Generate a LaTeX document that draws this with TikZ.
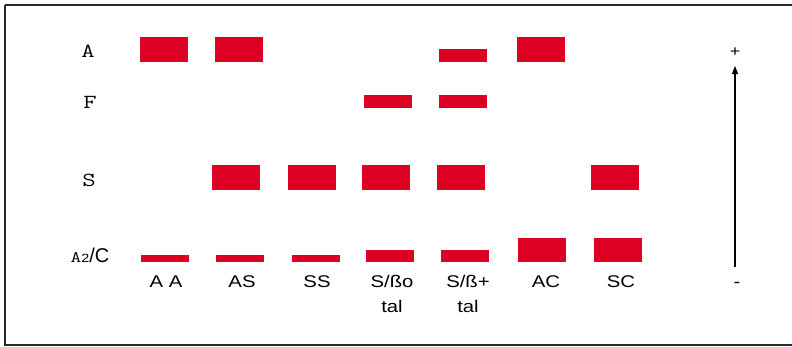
\documentclass[tikz,border=0pt]{standalone}
\usepackage{fontspec}
\usepackage{graphicx}
\setmainfont{Liberation Sans}
\newfontfamily\labsans[FakeStretch=1.2]{Liberation Sans}
\usetikzlibrary{arrows.meta}
\definecolor{barred}{RGB}{221,0,36}
\definecolor{framegray}{RGB}{40,40,40}
\newcommand{\widemono}[1]{\scalebox{1.3}[1]{#1}}
\tikzset{
  bar/.style={fill=barred},
  rowlab/.style={anchor=base, inner sep=0pt, font=\ttfamily\fontsize{20}{20}\selectfont},
  collab/.style={anchor=base, inner sep=0pt, align=center, font=\labsans\fontsize{17}{25}\selectfont},
  signlab/.style={anchor=base, inner sep=0pt, font=\labsans\fontsize{15}{15}\selectfont},
}
\begin{document}
\begin{tikzpicture}[x=1bp,y=-1bp]
\useasboundingbox (0,0) rectangle (792,346);
% frame (right side runs off the picture)
\draw[framegray, line width=2bp] (5,5) -- (800,5);
\draw[framegray, line width=1.5bp] (5,5) -- (5,345) -- (800,345);

% row labels
\node[rowlab] (lA) at (88,57) {\widemono{A}};
\node[rowlab] (lF) at (90,108) {\widemono{F}};
\node[rowlab] (lS) at (89,186) {\widemono{S}};
\node[anchor=base, inner sep=0pt] (lAC) at (90,262.5)
  {{\ttfamily\fontsize{16}{16}\selectfont\widemono{A}}{\labsans\fontsize{12}{12}\selectfont 2}{\fontsize{20}{20}\selectfont /C}};

% row A
\fill[bar] (140,37) rectangle (188,62);
\fill[bar] (215,37) rectangle (263,62);
\fill[bar] (439,49) rectangle (487,62);
\fill[bar] (517,37) rectangle (565,62);
% row F
\fill[bar] (364,95) rectangle (412,108);
\fill[bar] (439,95) rectangle (487,108);
% row S
\fill[bar] (212,165) rectangle (260,190);
\fill[bar] (288,165) rectangle (336,190);
\fill[bar] (362,165) rectangle (410,190);
\fill[bar] (437,165) rectangle (485,190);
\fill[bar] (591,165) rectangle (639,190);
% row A2/C
\fill[bar] (141,255) rectangle (189,262);
\fill[bar] (216,255) rectangle (264,262);
\fill[bar] (292,255) rectangle (340,262);
\fill[bar] (366,250) rectangle (414,262);
\fill[bar] (441,250) rectangle (489,262);
\fill[bar] (518,238) rectangle (566,262);
\fill[bar] (594,238) rectangle (642,262);

% column labels
\node[collab] (cAA) at (166,287) {A A};
\node[collab] (cAS) at (242,287) {AS};
\node[collab] (cSS) at (317,287) {SS};
\node[collab] (cSo) at (392,312) {S/ßo\\tal};
\node[collab] (cSp) at (468,312) {S/ß+\\tal};
\node[collab] (cAC) at (546,287) {AC};
\node[collab] (cSC) at (621,287) {SC};

% scale arrow
\coordinate (abot) at (735,267);
\coordinate (atop) at (735,66);
\draw[line width=1.1bp, -{Triangle[length=8bp,width=6bp]}] (abot) -- (atop);
\node[signlab] (plus) at (735,56) {+};
\node[collab] (minus) at (737,287) {-};
\end{tikzpicture}
\end{document}
